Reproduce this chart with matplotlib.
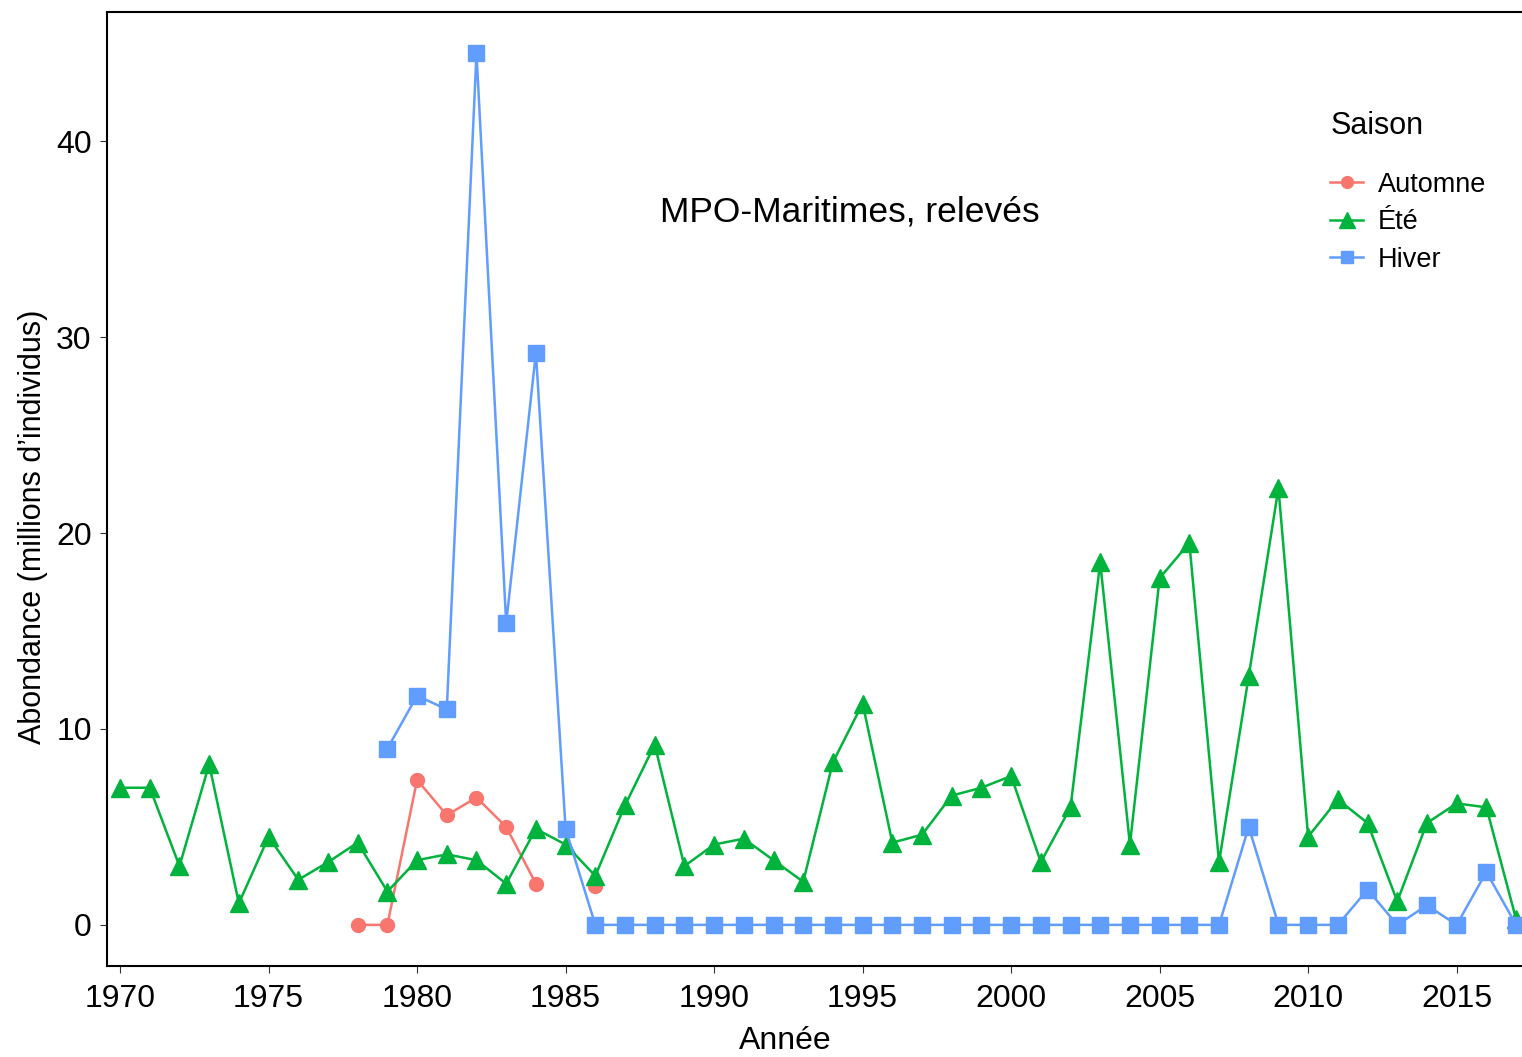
import numpy as np
import matplotlib
matplotlib.use("Agg")
import matplotlib.pyplot as plt

plt.rcParams['font.family'] = ['Liberation Sans', 'DejaVu Sans']

# data (millions d'individus)
years_ete = np.arange(1970, 2018)
ete = [7.0, 7.0, 3.0, 8.2, 1.1, 4.5, 2.3, 3.2, 4.2, 1.7,
       3.3, 3.6, 3.3, 2.1, 4.9, 4.1, 2.5, 6.1, 9.2, 3.0,
       4.1, 4.4, 3.3, 2.2, 8.3, 11.3, 4.2, 4.6, 6.6, 7.0,
       7.6, 3.2, 6.0, 18.5, 4.1, 17.7, 19.5, 3.2, 12.7, 22.3,
       4.5, 6.4, 5.2, 1.2, 5.2, 6.2, 6.0, 0.3]

years_hiver = np.arange(1979, 2018)
hiver = [9.0, 11.7, 11.0, 44.5, 15.4, 29.2, 4.9,
         0, 0, 0, 0, 0, 0, 0, 0, 0, 0, 0, 0, 0, 0, 0, 0, 0, 0, 0, 0, 0, 0,
         5.0, 0, 0, 0, 1.8, 0, 1.0, 0, 2.7, 0]

years_automne = np.arange(1978, 1987)
automne = [0, 0, 7.4, 5.6, 6.5, 5.0, 2.1, np.nan, 2.0]

col_aut = '#F8766D'
col_ete = '#00B33C'
col_hiv = '#619CFF'

fig = plt.figure(figsize=(15.22, 10.57), dpi=100)
ax = fig.add_axes([107/1522, 91/1057, 1 - 107/1522, (966-12)/1057])

ax.plot(years_automne, automne, color=col_aut, marker='o', ms=10, lw=1.8, label='Automne')
ax.plot(years_ete, ete, color=col_ete, marker='^', ms=13, lw=1.8, label='Été')
ax.plot(years_hiver, hiver, color=col_hiv, marker='s', ms=11, lw=1.8, label='Hiver')

ax.set_xlim(1969.56, 2017.2)
ax.set_ylim(-2.1, 46.6)
ax.set_xticks(range(1970, 2016, 5))
ax.set_yticks([0, 10, 20, 30, 40])
ax.tick_params(labelsize=23, length=5, color='#333333', labelcolor='black')
ax.tick_params(axis='x', pad=8)
ax.tick_params(axis='y', pad=6)
ax.spines['right'].set_visible(False)
for s in ['left', 'bottom', 'top']:
    ax.spines[s].set_linewidth(1.5)

ax.set_xlabel('Année', fontsize=23)
ax.set_ylabel('Abondance (millions d’individus)', fontsize=22)
ax.xaxis.set_label_coords(0.479, -0.063)
ax.yaxis.set_label_coords(-0.042, 0.46)

ax.text(1988.17, 36.37, 'MPO-Maritimes, relevés', fontsize=25.5, va='center')

leg = ax.legend(title='Saison', loc='upper left', bbox_to_anchor=(1306/1522, 1 - 87/1057),
                bbox_transform=fig.transFigure, frameon=False, fontsize=19.5,
                title_fontsize=22, handlelength=1.2, labelspacing=0.42, handletextpad=0.55,
                markerscale=0.85)
leg._legend_box.align = 'left'
leg._legend_box.sep = 22

fig.savefig('out.png', dpi=100)
